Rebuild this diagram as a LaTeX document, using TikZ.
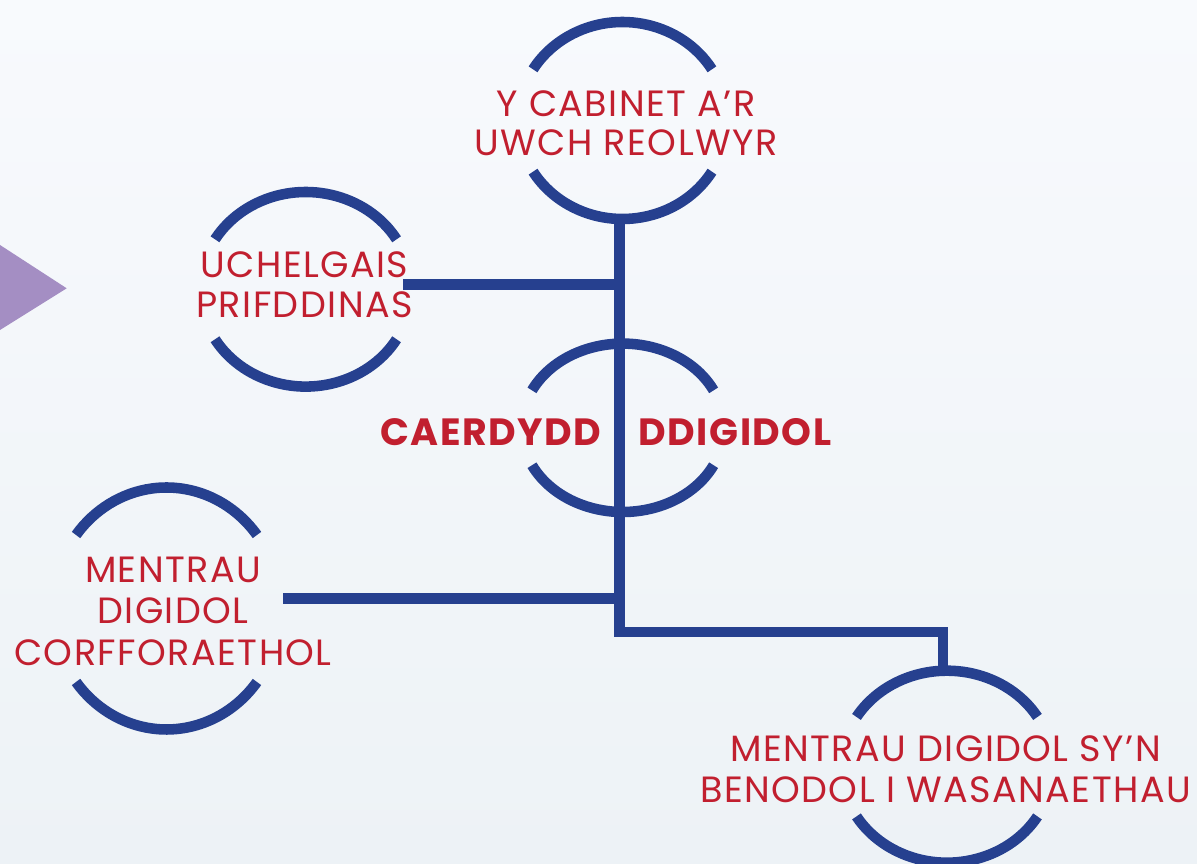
\documentclass[tikz,border=0pt]{standalone}
\usepackage{fontspec}
\setmainfont{Poppins}[LetterSpace=4]
\usetikzlibrary{positioning, calc}
\definecolor{cardiffred}{HTML}{C11F2F}
\definecolor{linkblue}{HTML}{26408F}
\definecolor{arrowpurple}{HTML}{A48EC3}
\definecolor{bgtop}{HTML}{F8FAFD}
\definecolor{bgbottom}{HTML}{EDF2F6}
\tikzset{
	ringline/.style={draw=linkblue, line width=3pt}
}
\tikzset{
	linkline/.style={draw=linkblue, line width=3pt},
	boxtext/.style={text=cardiffred, align=center, inner sep=0pt, font=\fontsize{10.4}{11.6}\selectfont}
}
% ring cut open left and right: centre, angle, x radius, y radius
\newcommand{\splitring}[4]{
  \draw[ringline] ([shift={(#2:#3 and #4)}]#1) arc[start angle=#2, end angle=180-#2, x radius=#3, y radius=#4];
  \draw[ringline] ([shift={(-#2:#3 and #4)}]#1) arc[start angle=-#2, end angle=-180+#2, x radius=#3, y radius=#4];
}

\begin{document}
\begin{tikzpicture}
  \useasboundingbox (0,0) rectangle (11.97,-8.64);
  \clip (0,0) rectangle (11.97,-8.64);
  \shade[top color=bgtop, bottom color=bgbottom] (0,0) rectangle (11.97,-8.64);
  \fill[arrowpurple] (0,-2.45) -- (0.667,-2.883) -- (0,-3.30) -- cycle;

  % ring centres
  \coordinate (cabinet) at (6.225,-1.205);
  \coordinate (uchelgais) at (3.058,-2.893);
  \coordinate (caerdydd) at (6.228,-4.278);
  \coordinate (corfforaethol) at (1.665,-6.085);
  \coordinate (gwasanaethau) at (9.47,-7.667);

  \splitring{cabinet}{31.3}{1.047}{0.985}
  \splitring{uchelgais}{30.9}{1.058}{0.973}
  \splitring{caerdydd}{26.4}{1.014}{0.842}
  \splitring{corfforaethol}{37.4}{1.139}{1.21}
  \splitring{gwasanaethau}{31.2}{1.058}{0.96}

  % connectors
  \coordinate (trunktop) at (6.197,-2.19);
  \coordinate (trunkfoot) at (6.197,-6.32);
  \coordinate (branchtop) at (9.43,-6.70);
  \coordinate (uchend) at (4.033,-2.847);
  \coordinate (corfend) at (2.833,-5.983);
  \draw[linkline] (trunktop) -- (trunkfoot) -| (branchtop);
  \draw[linkline] (uchend) -- (uchend -| trunktop);
  \draw[linkline] (corfend) -- (corfend -| trunktop);

  % labels
  \node[boxtext, font=\fontsize{10.4}{11.2}\selectfont] (cabtext) at (6.26,-1.233) {Y CABINET A’R\\UWCH REOLWYR};
  \node[boxtext, font=\fontsize{10.4}{11.4}\selectfont] (uchtext) at (3.045,-2.85) {UCHELGAIS\\PRIFDDINAS};
  \node[boxtext, font=\fontsize{10.4}{11.8}\selectfont] (corftext) at (1.73,-6.11) {MENTRAU\\DIGIDOL\\CORFFORAETHOL};
  \node[boxtext, font=\fontsize{10.4}{11.4}\selectfont] (gwastext) at (9.455,-7.692) {MENTRAU DIGIDOL SY’N\\BENODOL I WASANAETHAU};
  \node[boxtext, font=\fontsize{10.8}{12}\selectfont\bfseries, anchor=east] (caerword) at (6.02,-4.322) {CAERDYDD};
  \node[boxtext, font=\fontsize{10.8}{12}\selectfont\bfseries, anchor=west] (digiword) at (6.38,-4.322) {DDIGIDOL};
\end{tikzpicture}
\end{document}
